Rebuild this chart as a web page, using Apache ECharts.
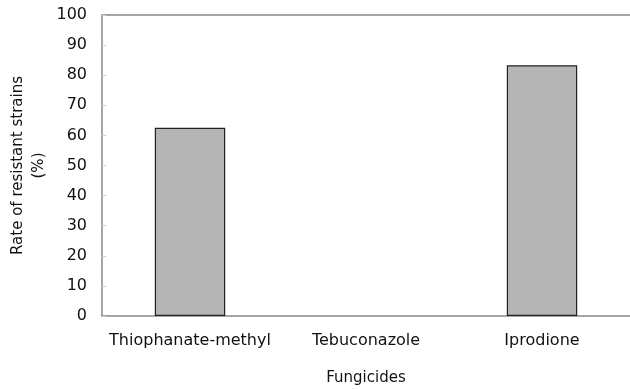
<!DOCTYPE html>
<html>
<head>
<meta charset="utf-8">
<script src="https://cdn.jsdelivr.net/npm/echarts@6/dist/echarts.min.js"></script>
<style>
html, body { margin: 0; padding: 0; background: #fff; }
#chart { width: 630px; height: 389px; }
</style>
</head>
<body>
<div id="chart"></div>
<script>
var categories = ['Thiophanate-methyl', 'Tebuconazole', 'Iprodione']
var resistRate = [62.5, 0, 83.3]
var yTicks = [0, 10, 20, 30, 40, 50, 60, 70, 80, 90, 100]

var myChart = echarts.init(document.getElementById('chart'))
var font = 'DejaVu Sans'
var option = {
  animation: false,
  grid: {
    left: 102,
    right: 0,
    top: 15,
    bottom: 73,
    containLabel: false,
    outerBoundsMode: 'none'
  },
  xAxis: {
    type: 'category',
    data: categories,
    name: 'Fungicides',
    nameLocation: 'middle',
    nameGap: 55,
    nameMoveOverlap: false,
    nameTextStyle: { color: '#111', fontSize: 15, fontFamily: font },
    axisLine: { lineStyle: { color: '#888', width: 1.5 } },
    axisTick: { show: false },
    axisLabel: { color: '#111', fontSize: 16, fontFamily: font, margin: 17, interval: 0 }
  },
  yAxis: {
    type: 'value',
    min: yTicks[0],
    max: yTicks[yTicks.length - 1],
    interval: 10,
    name: 'Rate of resistant strains\n(%)',
    nameLocation: 'middle',
    nameGap: 52,
    nameMoveOverlap: false,
    nameTextStyle: { color: '#111', fontSize: 15, fontFamily: font, lineHeight: 21 },
    axisLine: { show: true, lineStyle: { color: '#888', width: 1.5 } },
    axisTick: { show: true, inside: true, length: 4, lineStyle: { color: '#ccc' } },
    axisLabel: { color: '#111', fontSize: 16, fontFamily: font, margin: 15 },
    splitLine: { show: false }
  },
  series: [{
    type: 'bar',
    data: resistRate.map(function (v) {
      return v === 0 ? { value: v, itemStyle: { borderWidth: 0 } } : v
    }),
    barWidth: '40%',
    itemStyle: { color: '#b5b5b5', borderColor: '#222', borderWidth: 1.2 }
  }]
}
myChart.setOption(option)
// top border line of the plot
var topY = myChart.convertToPixel({ yAxisIndex: 0 }, 100)
myChart.setOption({
  graphic: [{
    type: 'line',
    shape: { x1: 102, y1: topY, x2: 630, y2: topY },
    style: { stroke: '#888', lineWidth: 1.5 },
    silent: true
  }]
})
</script>
</body>
</html>
